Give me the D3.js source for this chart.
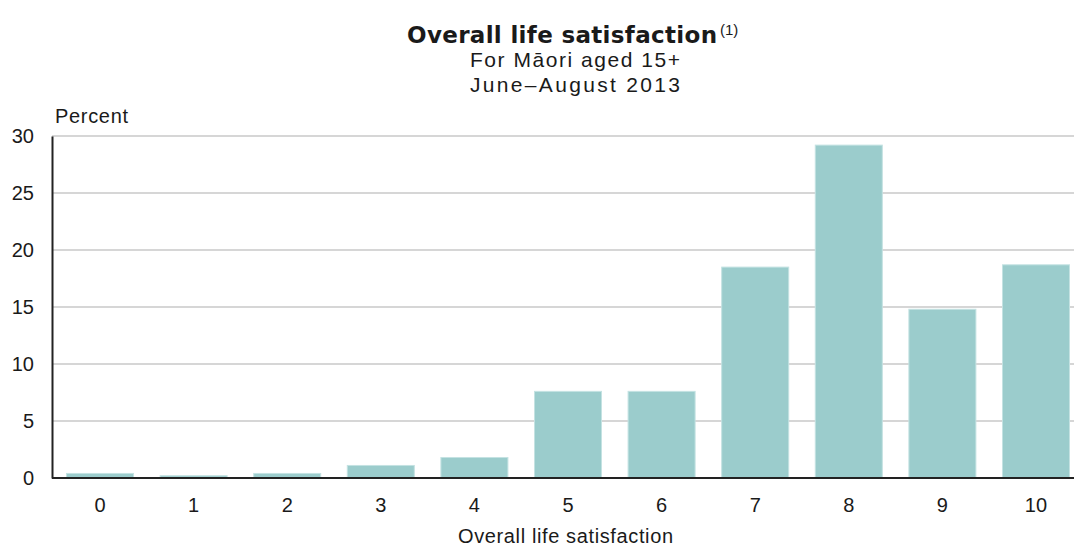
<!DOCTYPE html>
<html>
<head>
<meta charset="utf-8">
<script src="https://cdn.jsdelivr.net/npm/d3@7"></script>
<style>
  html, body { margin: 0; padding: 0; background: #fff; }
  svg { display: block; font-family: "Liberation Sans", Arial, sans-serif; }
</style>
</head>
<body>
<svg id="chart" width="1074" height="546"></svg>
<script>
// Overall life satisfaction score (0–10) and share of respondents, percent
const categories = ["0", "1", "2", "3", "4", "5", "6", "7", "8", "9", "10"];
const percents = [0.4, 0.2, 0.4, 1.1, 1.8, 7.6, 7.6, 18.5, 29.2, 14.8, 18.7];
const yTicks = [0, 5, 10, 15, 20, 25, 30];

const svg = d3.select("#chart");
const width = 1074;
const axisLeft = 52, plotTop = 136, plotBottom = 478;
const textColor = "#1a1a1a";

const x = d3.scaleBand()
  .domain(categories)
  .range([axisLeft, 1084])
  .paddingInner(0.284)
  .paddingOuter(0.155);

const y = d3.scaleLinear()
  .domain([0, 30])
  .range([plotBottom, plotTop]);

// Gridlines
svg.append("g")
  .selectAll("line")
  .data(yTicks.filter(d => d > 0))
  .join("line")
  .attr("x1", axisLeft)
  .attr("x2", width)
  .attr("y1", d => y(d))
  .attr("y2", d => y(d))
  .attr("stroke", "#d6d6d6")
  .attr("stroke-width", 2);

// Bars
svg.append("g")
  .selectAll("rect")
  .data(percents)
  .join("rect")
  .attr("x", (d, i) => x(categories[i]))
  .attr("width", x.bandwidth())
  .attr("y", d => y(d))
  .attr("height", d => plotBottom - y(d))
  .attr("fill", "#9bcccc")
  .attr("stroke", "#c4e2e2")
  .attr("stroke-width", 1);

// Y axis
const yAxis = svg.append("g")
  .attr("transform", `translate(${axisLeft},0)`)
  .call(d3.axisLeft(y).tickValues(yTicks).tickSize(0).tickPadding(18));
yAxis.select(".domain").attr("stroke", "#222").attr("stroke-width", 2);
yAxis.selectAll("text").attr("font-size", 20).attr("fill", textColor)
  .attr("font-family", "Liberation Sans, Arial, sans-serif");

// X axis
const xAxis = svg.append("g")
  .attr("transform", `translate(0,${plotBottom})`)
  .call(d3.axisBottom(x).tickSize(0).tickPadding(20));
xAxis.select(".domain").attr("stroke", "#222").attr("stroke-width", 2)
  .attr("d", `M${axisLeft},0H${width}`);
xAxis.selectAll("text").attr("font-size", 20).attr("fill", textColor)
  .attr("font-family", "Liberation Sans, Arial, sans-serif");

// Axis titles
svg.append("text")
  .attr("x", 55).attr("y", 123)
  .attr("font-size", 20).attr("fill", textColor)
  .attr("textLength", 73).attr("lengthAdjust", "spacing")
  .text("Percent");

svg.append("text")
  .attr("x", 458).attr("y", 543)
  .attr("font-size", 20).attr("fill", textColor)
  .attr("textLength", 215).attr("lengthAdjust", "spacing")
  .text("Overall life satisfaction");

// Title block
svg.append("text")
  .attr("x", 407).attr("y", 43)
  .attr("font-family", "DejaVu Sans, Verdana, sans-serif")
  .attr("font-size", 23).attr("font-weight", "bold").attr("fill", textColor)
  .attr("textLength", 310).attr("lengthAdjust", "spacing")
  .text("Overall life satisfaction");
svg.append("text")
  .attr("x", 720).attr("y", 35)
  .attr("font-size", 15).attr("fill", textColor)
  .text("(1)");

svg.append("text")
  .attr("x", 470).attr("y", 67)
  .attr("font-size", 21).attr("fill", textColor)
  .attr("textLength", 210).attr("lengthAdjust", "spacing")
  .text("For Māori aged 15+");

svg.append("text")
  .attr("x", 470).attr("y", 92)
  .attr("font-size", 21).attr("fill", textColor)
  .attr("textLength", 210).attr("lengthAdjust", "spacing")
  .text("June–August 2013");
</script>
</body>
</html>
